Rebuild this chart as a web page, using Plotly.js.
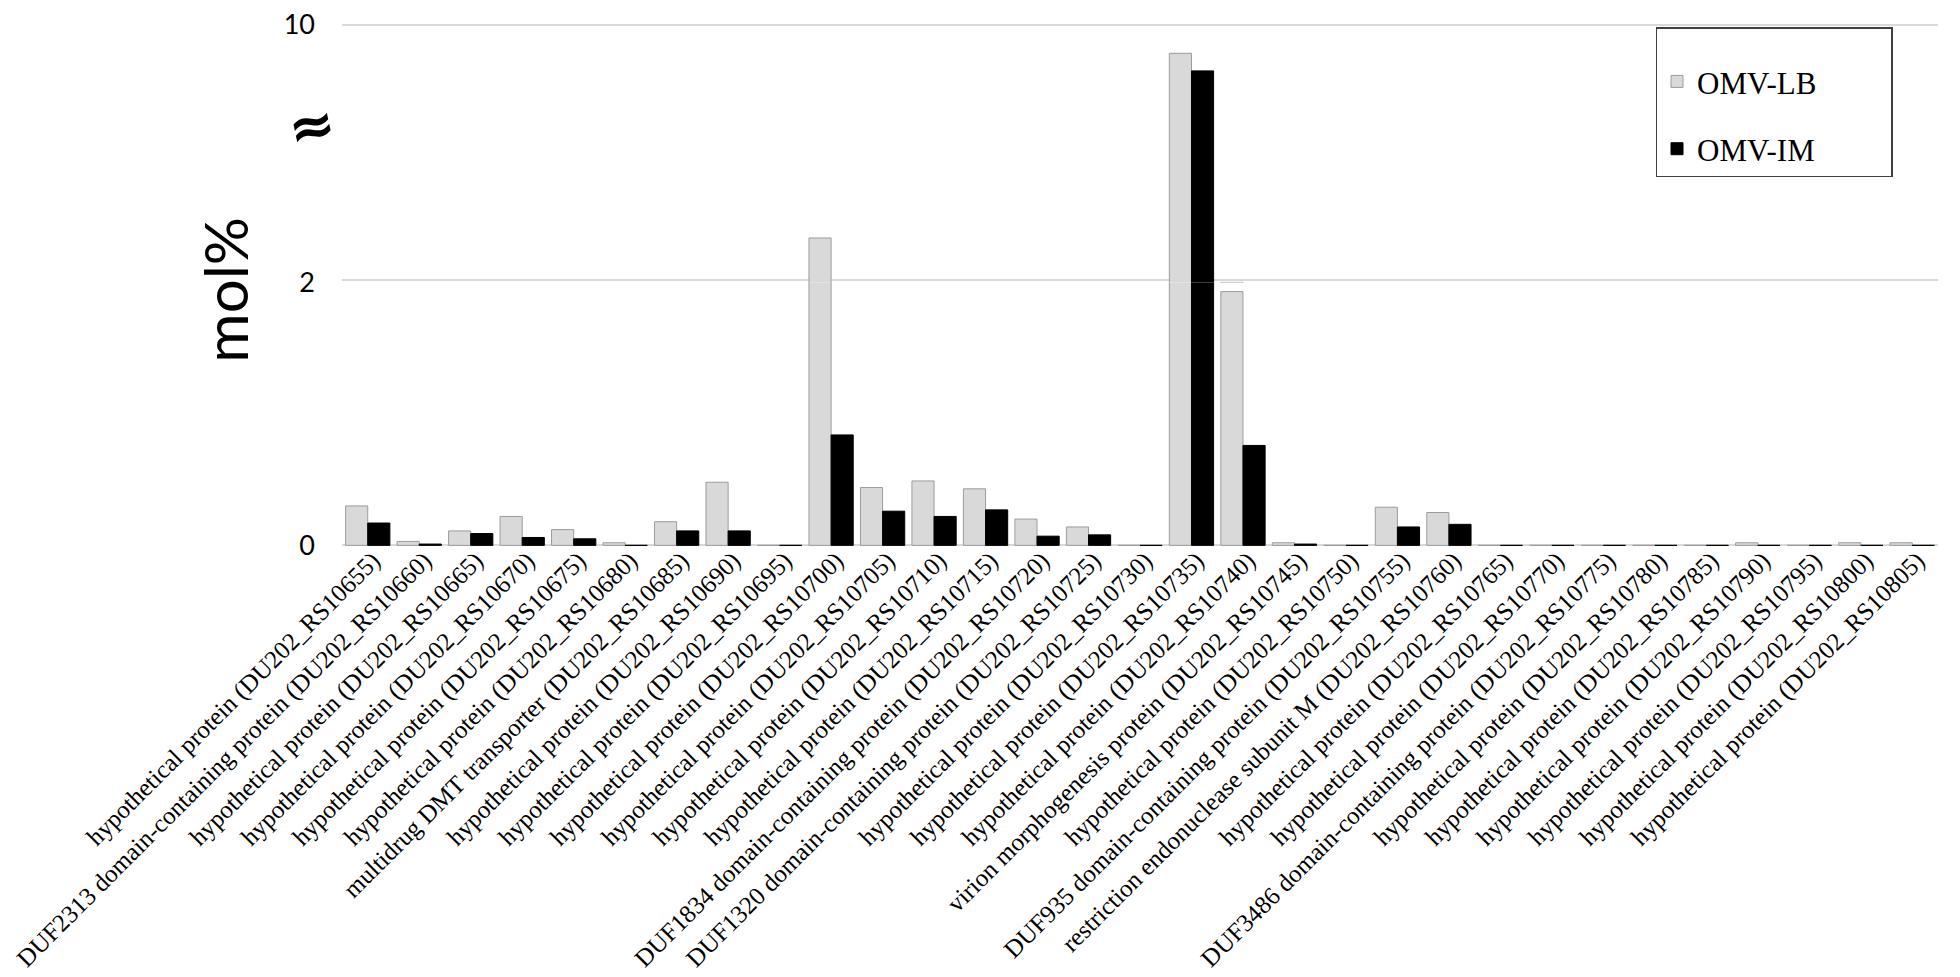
<!DOCTYPE html>
<html>
<head>
<meta charset="utf-8">
<script src="https://cdn.plot.ly/plotly-3.0.1.min.js"></script>
<style>
  html, body { margin: 0; padding: 0; background: #ffffff; }
  #chart { width: 1960px; height: 977px; }
</style>
</head>
<body>
<div id="chart"></div>
<script>
// protein names on the x axis, in locus order
const categories = [
    'hypothetical protein (DU202_RS10655)',
    'DUF2313 domain-containing protein (DU202_RS10660)',
    'hypothetical protein (DU202_RS10665)',
    'hypothetical protein (DU202_RS10670)',
    'hypothetical protein (DU202_RS10675)',
    'hypothetical protein (DU202_RS10680)',
    'multidrug DMT transporter (DU202_RS10685)',
    'hypothetical protein (DU202_RS10690)',
    'hypothetical protein (DU202_RS10695)',
    'hypothetical protein (DU202_RS10700)',
    'hypothetical protein (DU202_RS10705)',
    'hypothetical protein (DU202_RS10710)',
    'hypothetical protein (DU202_RS10715)',
    'DUF1834 domain-containing protein (DU202_RS10720)',
    'DUF1320 domain-containing protein (DU202_RS10725)',
    'hypothetical protein (DU202_RS10730)',
    'hypothetical protein (DU202_RS10735)',
    'hypothetical protein (DU202_RS10740)',
    'virion morphogenesis protein (DU202_RS10745)',
    'hypothetical protein (DU202_RS10750)',
    'DUF935 domain-containing protein (DU202_RS10755)',
    'restriction endonuclease subunit M (DU202_RS10760)',
    'hypothetical protein (DU202_RS10765)',
    'hypothetical protein (DU202_RS10770)',
    'DUF3486 domain-containing protein (DU202_RS10775)',
    'hypothetical protein (DU202_RS10780)',
    'hypothetical protein (DU202_RS10785)',
    'hypothetical protein (DU202_RS10790)',
    'hypothetical protein (DU202_RS10795)',
    'hypothetical protein (DU202_RS10800)',
    'hypothetical protein (DU202_RS10805)'
];

// mol% values
const omvLB = [0.30, 0.03, 0.11, 0.22, 0.12, 0.02, 0.18, 0.48, 0, 3.32,
               0.44, 0.49, 0.43, 0.20, 0.14, 0, 9.1, 1.93, 0.02, 0,
               0.29, 0.25, 0, 0, 0, 0, 0, 0.02, 0, 0.02, 0.02];
const omvIM = [0.17, 0.01, 0.09, 0.06, 0.05, 0, 0.11, 0.11, 0, 0.84,
               0.26, 0.22, 0.27, 0.07, 0.08, 0, 8.55, 0.76, 0.01, 0,
               0.14, 0.16, 0, 0, 0, 0, 0, 0, 0, 0, 0];

// broken axis: lower panel 0-2, upper panel 2-10
const lowerTicks = [0, 2];
const lowerLabels = ['0', '2'];
const upperTicks = [2, 10];
const upperLabels = ['', '10'];

const lbStyle = { color: '#d9d9d9', line: { color: '#9c9c9c', width: 1 } };
const imStyle = { color: '#000000', line: { color: '#000000', width: 1 } };

const traces = [
    { type: 'bar', x: categories, y: omvLB, name: 'OMV-LB', legendgroup: 'lb',
      marker: lbStyle, xaxis: 'x', yaxis: 'y' },
    { type: 'bar', x: categories, y: omvIM, name: 'OMV-IM', legendgroup: 'im',
      marker: imStyle, xaxis: 'x', yaxis: 'y' },
    { type: 'bar', x: categories, y: omvLB, name: 'OMV-LB', legendgroup: 'lb', showlegend: false,
      marker: lbStyle, xaxis: 'x', yaxis: 'y2' },
    { type: 'bar', x: categories, y: omvIM, name: 'OMV-IM', legendgroup: 'im', showlegend: false,
      marker: imStyle, xaxis: 'x', yaxis: 'y2' }
];

// lower panel holds 2.02 units, upper 8.15 units, at about 131.5 and 31.9 px per unit
const split = 265.6 / 526;
const tickFont = { family: 'Lato, sans-serif', size: 27, color: '#000000' };
const gridStyle = { gridcolor: '#d9d9d9', gridwidth: 2, zeroline: false, showline: false, automargin: false };

// blank legend title, only there to give the box its top padding and width
const legendPad = '\u00A0'.repeat(46);

const layout = {
    width: 1960,
    height: 977,
    margin: { l: 342, r: 22, t: 22, b: 429 },
    paper_bgcolor: '#ffffff',
    plot_bgcolor: '#ffffff',
    barmode: 'group',
    bargap: 0.14,
    bargroupgap: 0,
    xaxis: {
        anchor: 'y',
        tickangle: -45,
        tickfont: { family: 'Liberation Serif, serif', size: 25, color: '#000000' },
        ticklabelstandoff: -8,
        ticklabelshift: 5,
        showgrid: false,
        showline: false,
        zeroline: false,
        ticks: '',
        automargin: false
    },
    yaxis: Object.assign({
        domain: [0, split],
        range: [-0.02, 2],
        tickvals: lowerTicks,
        ticktext: lowerLabels,
        tickfont: tickFont,
        ticklabelstandoff: 26
    }, gridStyle),
    yaxis2: Object.assign({
        domain: [split, 1],
        range: [1.93, 10.08],
        anchor: 'x',
        tickvals: upperTicks,
        ticktext: upperLabels,
        tickfont: tickFont,
        ticklabelstandoff: 26
    }, gridStyle),
    legend: {
        x: 0.823,
        y: 0.99,
        xanchor: 'left',
        yanchor: 'top',
        bgcolor: '#ffffff',
        bordercolor: '#404040',
        borderwidth: 1.5,
        tracegroupgap: 24,
        title: { text: legendPad, font: { family: 'Liberation Serif, serif', size: 20 } },
        font: { family: 'Liberation Serif, serif', size: 31, color: '#000000' }
    },
    annotations: [
        {
            text: 'mol%', xref: 'paper', yref: 'paper', x: -0.073, y: 0.492,
            xanchor: 'center', yanchor: 'middle',
            showarrow: false, textangle: -90,
            font: { family: 'Lato, sans-serif', size: 60, color: '#000000' }
        },
        {
            text: '≈', xref: 'paper', yref: 'paper', x: -0.019, y: 0.804,
            xanchor: 'center', yanchor: 'middle',
            showarrow: false, textangle: -12,
            font: { family: 'DejaVu Sans, sans-serif', size: 56, weight: 'bold', color: '#000000' }
        }
    ],
    showlegend: true
};

Plotly.newPlot('chart', traces, layout, { displayModeBar: false, staticPlot: true });
</script>
</body>
</html>
